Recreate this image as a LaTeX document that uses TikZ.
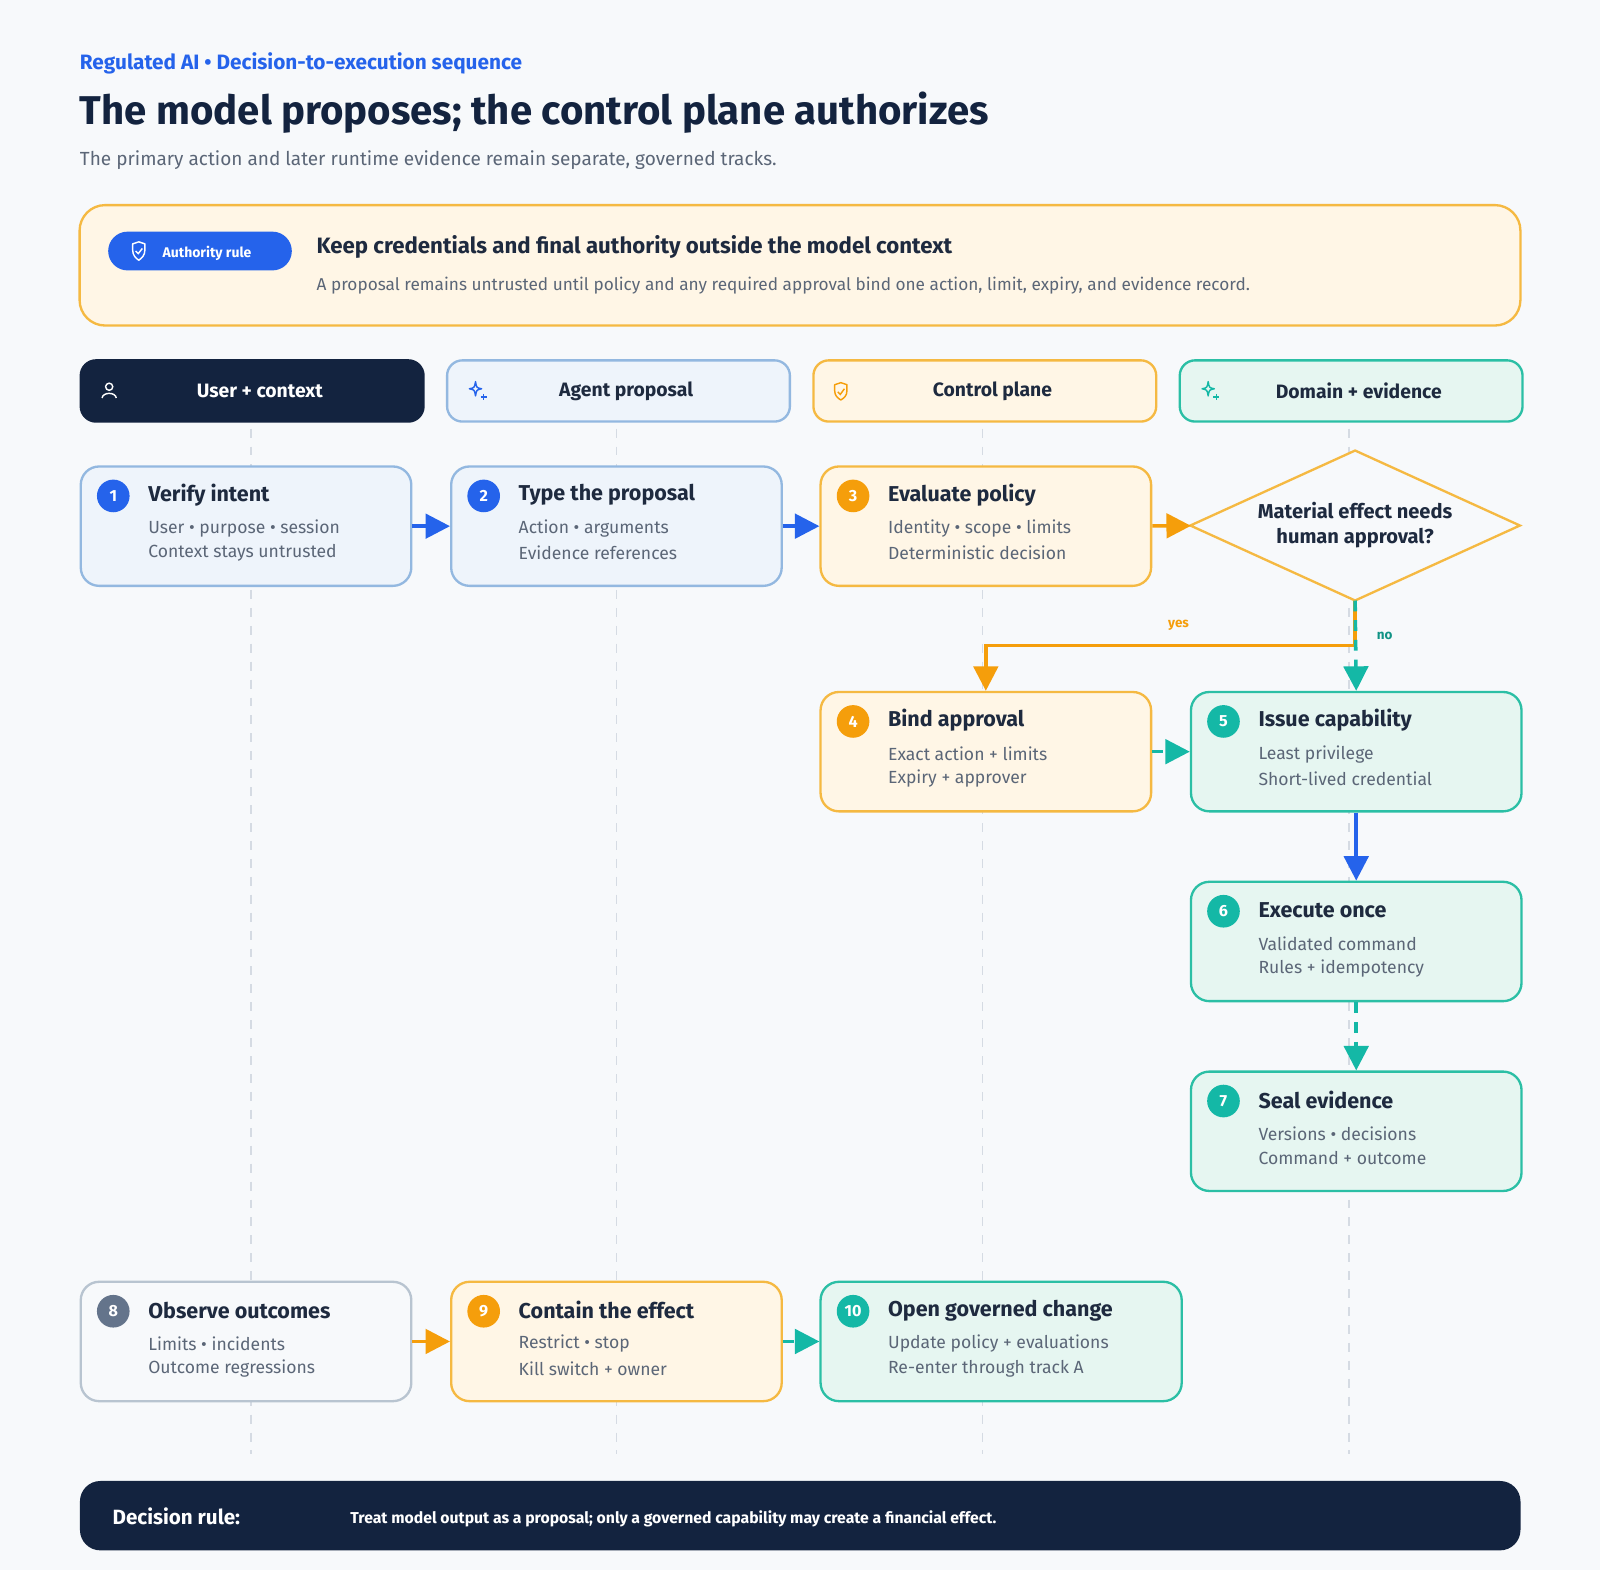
\documentclass[tikz,border=0pt]{standalone}
\usepackage{fontspec}
\setmainfont{Fira Sans}
\usetikzlibrary{arrows.meta,shapes.geometric,calc}

\definecolor{navy}{HTML}{13233F}
\definecolor{ink}{HTML}{1E2A3F}
\definecolor{grey}{HTML}{5B6677}
\definecolor{bg}{HTML}{F7F9FB}
\definecolor{blu}{HTML}{2563EB}
\definecolor{bluefill}{HTML}{EEF4FB}
\definecolor{bluedraw}{HTML}{93B8E0}
\definecolor{orn}{HTML}{F59E0B}
\definecolor{ornfill}{HTML}{FFF6E6}
\definecolor{orndraw}{HTML}{F5B942}
\definecolor{tea}{HTML}{14B8A6}
\definecolor{teafill}{HTML}{E6F6F1}
\definecolor{teadraw}{HTML}{2BBFA5}
\definecolor{gry}{HTML}{64748B}
\definecolor{gryfill}{HTML}{F7F9FB}
\definecolor{grydraw}{HTML}{B8C4D0}
\definecolor{lane}{HTML}{D5DBE3}

% one step card: name, x, y, look, badge colour, number, title, line one, line two
\newcommand\stepcard[9]{%
\node [card, #4, anchor=north west] (#1) at (#2,#3) {};
\node [badge, fill=#5] (#1n) at ([shift={(33,30)}]#1.north west) {#6};
\node [cardtitle, anchor=west] (#1t) at ([shift={(67,29)}]#1.north west) {#7};
\node [cardtext, anchor=west] (#1a) at ([shift={(67,62)}]#1.north west) {#8};
\node [cardtext, anchor=west] (#1b) at ([shift={(67,86)}]#1.north west) {#9};
}

\begin{document}
\begin{tikzpicture}[x=0.02cm, y=-0.02cm,
  card/.style={rounded corners=0.36cm, line width=1.3pt, minimum width=6.48cm, minimum height=2.34cm, inner sep=0pt},
  bluecard/.style={fill=bluefill, draw=bluedraw},
  orncard/.style={fill=ornfill, draw=orndraw},
  teacard/.style={fill=teafill, draw=teadraw},
  grycard/.style={fill=gryfill, draw=grydraw},
  badge/.style={circle, minimum size=0.64cm, inner sep=0pt, text=white, font=\bfseries\fontsize{9}{10}\selectfont},
  cardtitle/.style={text=ink, font=\bfseries\fontsize{12}{14}\selectfont, inner sep=0pt},
  cardtext/.style={text=grey, font=\fontsize{9.8}{11}\selectfont, inner sep=0pt},
  lanehead/.style={rounded corners=0.3cm, line width=1.3pt, minimum width=6.72cm, minimum height=1.2cm, anchor=north west, font=\bfseries\fontsize{10.8}{12}\selectfont, text=ink},
  go/.style={line width=2pt, -{Triangle[length=0.48cm, width=0.48cm]}},
  maybe/.style={go, dashed, dash pattern=on 6pt off 5pt}]

% page
\fill [bg] (0,0) rectangle (1568,1539);
\useasboundingbox (0,0) rectangle (1568,1539);

% heading
\node [anchor=west, text=blu, font=\bfseries\fontsize{11.6}{13}\selectfont, inner sep=0pt] (kicker) at (78,62) {Regulated AI • Decision-to-execution sequence};
\node [anchor=west, text=navy, font=\bfseries\fontsize{22.4}{25}\selectfont, inner sep=0pt] (title) at (78,110) {The model proposes; the control plane authorizes};
\node [anchor=west, text=grey, font=\fontsize{10.6}{12}\selectfont, inner sep=0pt] (subtitle) at (78,157) {The primary action and later runtime evidence remain separate, governed tracks.};

% authority rule
\draw [fill=ornfill, draw=orndraw, line width=1.3pt, rounded corners=0.5cm] (78,201) rectangle (1490,319);
\node [fill=blu, rounded corners=0.38cm, minimum width=3.6cm, minimum height=0.76cm] (pill) at (196,246) {};
\node [text=white, font=\bfseries\fontsize{7.8}{9}\selectfont, anchor=west, inner sep=0pt] (pilltext) at (159,248) {Authority rule};
\draw [white, line width=0.8pt, line join=round] (130,239) -- (136,237) -- (142,239) -- (142,245) .. controls (142,250) and (139,253) .. (136,255) .. controls (133,253) and (130,250) .. (130,245) -- cycle;
\draw [white, line width=0.8pt] (133,246) -- (135.5,248.5) -- (139.5,243.5);
\node [anchor=west, text=ink, font=\bfseries\fontsize{12.4}{14}\selectfont, inner sep=0pt] (rulehead) at (310,242) {Keep credentials and final authority outside the model context};
\node [anchor=west, text=grey, font=\fontsize{9.6}{11}\selectfont, inner sep=0pt] (ruletext) at (310,280) {A proposal remains untrusted until policy and any required approval bind one action, limit, expiry, and evidence record.};

% lanes
\foreach \cx in {246,604,963,1322}
  \draw [lane, line width=0.9pt, dash pattern=on 5pt off 5pt] (\cx,420) -- (\cx,1425);
\node [lanehead, fill=navy, draw=navy, text=white] (laneA) at (78,352) {\hspace*{0.3cm}User + context};
\node [lanehead, fill=bluefill, draw=bluedraw] (laneB) at (437,352) {\hspace*{0.3cm}Agent proposal};
\node [lanehead, fill=ornfill, draw=orndraw] (laneC) at (796,352) {\hspace*{0.3cm}Control plane};
\node [lanehead, fill=teafill, draw=teadraw] (laneD) at (1155,352) {\hspace*{0.3cm}Domain + evidence};
% lane icons
\draw [white, line width=0.8pt] (107,379) circle (3.5);
\draw [white, line width=0.8pt] (100,390) .. controls (101,384) and (113,384) .. (114,390);
\foreach \ix/\icol in {466/blu,1184/tea}{
  \draw [\icol, line width=0.8pt, line join=round] (\ix,374) .. controls (\ix+1,380) .. (\ix+6,381) .. controls (\ix+1,382) .. (\ix,388) .. controls (\ix-1,382) .. (\ix-6,381) .. controls (\ix-1,380) .. cycle;
  \draw [\icol, line width=0.7pt] (\ix+8,386) -- (\ix+8,392) (\ix+5,389) -- (\ix+11,389);}
\draw [orn, line width=0.8pt, line join=round] (818,377) -- (824,375) -- (830,377) -- (830,383) .. controls (830,388) and (827,390) .. (824,392) .. controls (821,390) and (818,388) .. (818,383) -- cycle;
\draw [orn, line width=0.8pt] (821,384) -- (823.5,386.5) -- (827.5,381);

% steps
\stepcard{verify}{78}{456}{bluecard}{blu}{1}{Verify intent}{User • purpose • session}{Context stays untrusted}
\stepcard{typed}{441}{456}{bluecard}{blu}{2}{Type the proposal}{Action • arguments}{Evidence references}
\stepcard{policy}{803}{456}{orncard}{orn}{3}{Evaluate policy}{Identity • scope • limits}{Deterministic decision}
\stepcard{bind}{803}{677}{orncard}{orn}{4}{Bind approval}{Exact action + limits}{Expiry + approver}
\stepcard{issue}{1166}{677}{teacard}{tea}{5}{Issue capability}{Least privilege}{Short-lived credential}
\stepcard{execute}{1166}{863}{teacard}{tea}{6}{Execute once}{Validated command}{Rules + idempotency}
\stepcard{seal}{1166}{1049}{teacard}{tea}{7}{Seal evidence}{Versions • decisions}{Command + outcome}
\stepcard{observe}{78}{1255}{grycard}{gry}{8}{Observe outcomes}{Limits • incidents}{Outcome regressions}
\stepcard{contain}{441}{1255}{orncard}{orn}{9}{Contain the effect}{Restrict • stop}{Kill switch + owner}
\node [card, teacard, anchor=north west, minimum width=7.08cm] (change) at (803,1255) {};
\node [badge, fill=tea] (changen) at ([shift={(33,30)}]change.north west) {10};
\node [cardtitle, anchor=west] (changet) at ([shift={(67,29)}]change.north west) {Open governed change};
\node [cardtext, anchor=west] (changea) at ([shift={(67,62)}]change.north west) {Update policy + evaluations};
\node [cardtext, anchor=west] (changeb) at ([shift={(67,86)}]change.north west) {Re-enter through track A};

% decision
\node [diamond, draw=orndraw, fill=bg, line width=1.3pt, minimum width=6.46cm, minimum height=2.94cm, inner sep=0pt, outer sep=0pt] (gate) at (1328,515) {};
\node [align=center, text=ink, font=\bfseries\fontsize{11.2}{14}\selectfont] (gatetext) at (gate) {Material effect needs\\human approval?};

% connectors
\draw [go, blu] (verify) -- (typed);
\draw [go, blu] (typed) -- (policy);
\draw [go, orn] (policy) -- (gate);
\coordinate (split) at ($(gate.south)+(0,44)$);
\draw [go, orn] (gate.south) -- (split) -| (bind.north);
\draw [maybe, tea] (gate.south) -- (issue.north);
\node [text=orn, font=\bfseries\fontsize{7.5}{9}\selectfont] (yes) at (1155,613) {yes};
\node [text=tea!80!black, font=\bfseries\fontsize{7.5}{9}\selectfont] (no) at (1357,623) {no};
\draw [maybe, tea] (bind) -- (issue);
\draw [go, blu] (issue) -- (execute);
\draw [maybe, tea] (execute) -- (seal);
\draw [go, orn] (observe) -- (contain);
\draw [maybe, tea] (contain) -- (change);

% decision rule
\node [fill=navy, rounded corners=0.4cm, minimum width=28.24cm, minimum height=1.36cm, anchor=north west] (rulebar) at (78,1451) {};
\node [anchor=west, text=white, font=\bfseries\fontsize{11.5}{13}\selectfont, inner sep=0pt] (rulelabel) at (110,1486) {Decision rule:};
\node [anchor=west, text=white, font=\bfseries\fontsize{8.8}{10}\selectfont, inner sep=0pt] (ruletxt) at (343,1488) {Treat model output as a proposal; only a governed capability may create a financial effect.};
\end{tikzpicture}
\end{document}
